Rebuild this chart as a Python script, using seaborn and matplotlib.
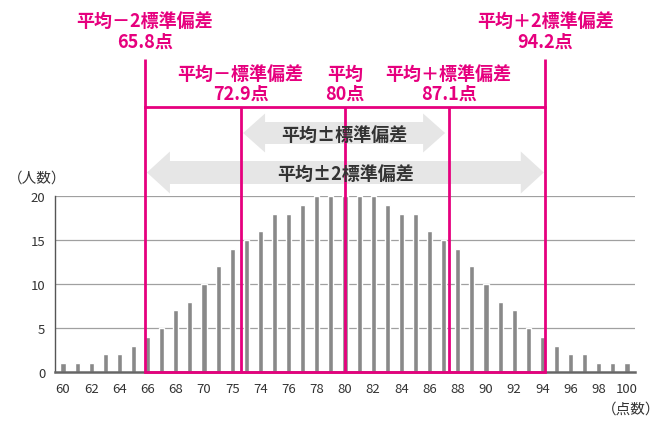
import matplotlib
matplotlib.use("Agg")
import matplotlib.pyplot as plt
import matplotlib.transforms as mtransforms
from matplotlib.patches import Polygon
import seaborn as sns
import pandas as pd

# ---------------- data ----------------
scores = list(range(60, 101))
counts = [1, 1, 1, 2, 2, 3, 4, 5, 7, 8, 10, 12, 14, 15, 16, 18, 18, 19, 20, 20,
          20, 20, 20, 19, 18, 18, 16, 15, 14, 12, 10, 8, 7, 5, 4, 3, 2, 2, 1, 1, 1]
x_ticks = list(range(60, 101, 2))
x_tick_labels = ["60", "62", "64", "66", "68", "70", "75", "74", "76", "78", "80",
                 "82", "84", "86", "88", "90", "92", "94", "96", "98", "100"]
y_ticks = [0, 5, 10, 15, 20]

# mean / standard deviation markers (drawn positions and label texts)
line_positions = [65.8, 72.6, 80.0, 87.35, 94.2]
outer_titles = ["平均－2標準偏差", "平均＋2標準偏差"]
outer_values = ["65.8点", "94.2点"]
inner_titles = ["平均－標準偏差", "平均", "平均＋標準偏差"]
inner_values = ["72.9点", "80点", "87.1点"]
arrow1_range = [72.77, 87.1]
arrow2_range = [65.95, 94.1]
arrow_labels = ["平均±標準偏差", "平均±2標準偏差"]

# ---------------- style ----------------
sns.set_theme(style="white")
plt.rcParams["font.family"] = ["Noto Sans CJK JP", "DejaVu Sans"]

MAGENTA = "#e6007e"
BAR = "#898989"
ARROW = "#e6e6e6"
TXT = "#333333"

W, H = 670, 431
fig = plt.figure(figsize=(W / 100, H / 100), dpi=100)
fig.patch.set_facecolor("white")

ax_left, ax_right, ax_top, ax_bottom = 55, 635, 197, 373
ax = fig.add_axes([ax_left / W, (H - ax_bottom) / H,
                   (ax_right - ax_left) / W, (ax_bottom - ax_top) / H])

df = pd.DataFrame({"score": scores, "count": counts})
sns.barplot(data=df, x="score", y="count", native_scale=True, width=0.36,
            color=BAR, saturation=1, ax=ax, zorder=2)

ax.set_xlim(59.43, 100.57)
ax.set_ylim(0, 20)
ax.set_xticks(x_ticks)
ax.set_xticklabels(x_tick_labels)
ax.set_yticks(y_ticks)
ax.set_yticklabels([str(v) for v in y_ticks])
ax.tick_params(axis="both", length=0, labelsize=9.5, colors=TXT)
ax.tick_params(axis="x", pad=7)
ax.tick_params(axis="y", pad=7)
ax.set_xlabel("")
ax.set_ylabel("")
for v in y_ticks[1:]:
    ax.axhline(v, color="#a0a0a0", lw=0.9, zorder=1)
for s in ["top", "right"]:
    ax.spines[s].set_visible(False)
ax.spines["left"].set_color("#555555")
ax.spines["left"].set_linewidth(1.0)
ax.spines["bottom"].set_color("#666666")
ax.spines["bottom"].set_linewidth(1.8)

# blended transform: x in data, y in figure pixels (converted to fraction)
bt = mtransforms.blended_transform_factory(ax.transData, fig.transFigure)
def fy(py):
    return (H - py) / H

LW = 2.0
# outer vertical lines
for xp in (line_positions[0], line_positions[4]):
    ax.plot([xp, xp], [fy(60), fy(ax_bottom)], transform=bt, color=MAGENTA,
            lw=LW, clip_on=False, zorder=5, solid_capstyle="butt")
# inner vertical lines
for xp in line_positions[1:4]:
    ax.plot([xp, xp], [fy(108), fy(ax_bottom)], transform=bt, color=MAGENTA,
            lw=LW, clip_on=False, zorder=5, solid_capstyle="butt")
# horizontal line
ax.plot([line_positions[0], line_positions[4]], [fy(108), fy(108)], transform=bt,
        color=MAGENTA, lw=LW, clip_on=False, zorder=5, solid_capstyle="projecting")
# bottom magenta line
ax.plot([line_positions[0], line_positions[4]], [fy(ax_bottom), fy(ax_bottom)],
        transform=bt, color=MAGENTA, lw=LW, clip_on=False, zorder=6,
        solid_capstyle="projecting")

# labels
for xp, t, v in zip((line_positions[0], line_positions[4]), outer_titles, outer_values):
    ax.text(xp, fy(21), t, transform=bt, ha="center", va="center", color=MAGENTA,
            fontsize=13, fontweight="bold")
    ax.text(xp, fy(42), v, transform=bt, ha="center", va="center", color=MAGENTA,
            fontsize=13, fontweight="bold")
for xp, t, v in zip(line_positions[1:4], inner_titles, inner_values):
    ax.text(xp, fy(74), t, transform=bt, ha="center", va="center", color=MAGENTA,
            fontsize=13, fontweight="bold")
    ax.text(xp, fy(94), v, transform=bt, ha="center", va="center", color=MAGENTA,
            fontsize=13, fontweight="bold")

# double arrows
px_per_x = (ax_right - ax_left) / (100.57 - 59.43)
def double_arrow(x0, x1, cy, body_half, head_half, head_len_px):
    hl = head_len_px / px_per_x
    pts = [
        (x0, fy(cy)),
        (x0 + hl, fy(cy - head_half)),
        (x0 + hl, fy(cy - body_half)),
        (x1 - hl, fy(cy - body_half)),
        (x1 - hl, fy(cy - head_half)),
        (x1, fy(cy)),
        (x1 - hl, fy(cy + head_half)),
        (x1 - hl, fy(cy + body_half)),
        (x0 + hl, fy(cy + body_half)),
        (x0 + hl, fy(cy + head_half)),
    ]
    poly = Polygon(pts, closed=True, transform=bt, facecolor=ARROW,
                   edgecolor="none", clip_on=False, zorder=3)
    ax.add_patch(poly)

double_arrow(arrow1_range[0], arrow1_range[1], 134, 11, 19.5, 22)
double_arrow(arrow2_range[0], arrow2_range[1], 173.5, 11.5, 21, 23)
ax.text(sum(arrow1_range) / 2, fy(135), arrow_labels[0], transform=bt, ha="center",
        va="center", color=TXT, fontsize=13, fontweight="bold", zorder=7)
ax.text(sum(arrow2_range) / 2, fy(174), arrow_labels[1], transform=bt, ha="center",
        va="center", color=TXT, fontsize=13, fontweight="bold", zorder=7)

# axis unit labels
fig.text(8 / W, fy(179), "（人数）", ha="left", va="center", color=TXT, fontsize=10.5)
fig.text(660 / W, fy(410), "（点数）", ha="right", va="center", color=TXT, fontsize=10.5)

fig.savefig("out.png", dpi=100, facecolor="white")
